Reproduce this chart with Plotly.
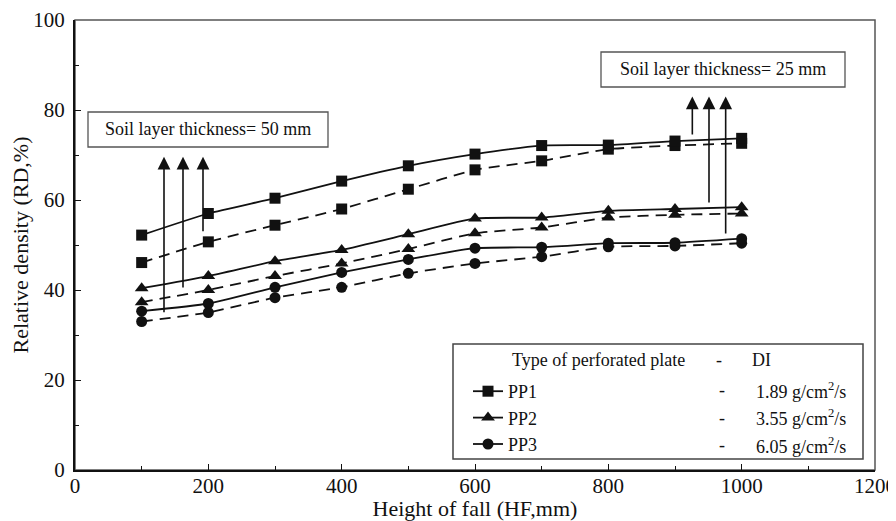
import plotly.graph_objects as go

# ---------------- data ----------------
hf = [100, 200, 300, 400, 500, 600, 700, 800, 900, 1000]
pp1_solid = [52.2, 57.0, 60.4, 64.2, 67.6, 70.2, 72.1, 72.2, 73.1, 73.7]
pp1_dashed = [46.1, 50.7, 54.4, 58.0, 62.4, 66.7, 68.7, 71.3, 72.1, 72.6]
pp2_solid = [40.4, 43.1, 46.4, 48.9, 52.4, 55.9, 56.1, 57.6, 58.0, 58.4]
pp2_dashed = [37.3, 40.0, 43.1, 45.9, 49.1, 52.6, 53.9, 56.1, 56.7, 57.0]
pp3_solid = [35.3, 37.0, 40.6, 43.9, 46.8, 49.3, 49.5, 50.4, 50.5, 51.4]
pp3_dashed = [33.0, 35.0, 38.3, 40.6, 43.7, 45.9, 47.4, 49.6, 49.8, 50.4]

plate_names = ["PP1", "PP2", "PP3"]
di_values = ["1.89", "3.55", "6.05"]

arrow50_x = [133.5, 162, 192]
arrow50_tail = [34.7, 40.2, 52.7]
arrow50_tip = 69.6
arrow25_x = [926, 951, 976]
arrow25_tail = [74.2, 59.1, 52.2]
arrow25_tip = 83.0

x_ticks = [0, 200, 400, 600, 800, 1000, 1200]
y_ticks = [0, 20, 40, 60, 80, 100]

# ---------------- figure ----------------
# page body has an 8px margin, so the figure is 8px smaller and margins shifted
OFF = 8
W, H = 896 - OFF, 521 - OFF
L, R, T, B = 75 - OFF, 21, 20 - OFF, 51
PW, PH = W - L - R, H - T - B   # 800 x 450
FONT = "Liberation Serif, Times New Roman, serif"
INK = "#111111"


def px(xp):
    """page pixel x -> paper x"""
    return (xp - 75) / PW


def py(yp):
    """page pixel y -> paper y"""
    return (470 - yp) / PH


fig = go.Figure()

series = [
    (pp1_solid, pp1_dashed, "square", 11),
    (pp2_solid, pp2_dashed, "triangle-up", 12),
    (pp3_solid, pp3_dashed, "circle", 11),
]
for i, (solid, dashed, sym, ms) in enumerate(series):
    fig.add_trace(go.Scatter(
        x=hf, y=dashed, mode="lines+markers", name=plate_names[i] + " (dashed)",
        showlegend=False,
        line=dict(color=INK, width=1.8, dash="11px,7px", shape="spline", smoothing=0.5),
        marker=dict(symbol=sym, size=ms, color=INK),
    ))
    fig.add_trace(go.Scatter(
        x=hf, y=solid, mode="lines+markers", name=plate_names[i],
        legendgroup=plate_names[i],
        line=dict(color=INK, width=1.8, shape="spline", smoothing=0.5),
        marker=dict(symbol=sym, size=ms, color=INK),
    ))

annotations = []
for xa, ta in zip(arrow50_x, arrow50_tail):
    annotations.append(dict(x=xa, y=arrow50_tip, ax=xa, ay=ta, xref="x", yref="y",
                            axref="x", ayref="y", text="", showarrow=True,
                            arrowhead=2, arrowsize=1.6, arrowwidth=1.6,
                            arrowcolor=INK, standoff=0))
for xa, ta in zip(arrow25_x, arrow25_tail):
    annotations.append(dict(x=xa, y=arrow25_tip, ax=xa, ay=ta, xref="x", yref="y",
                            axref="x", ayref="y", text="", showarrow=True,
                            arrowhead=2, arrowsize=1.6, arrowwidth=1.6,
                            arrowcolor=INK, standoff=0))

bf = dict(family=FONT, size=18, color=INK)
tf = dict(family=FONT, size=18, color=INK)


def note(xp, yp, text, font, anchor="center"):
    return dict(x=px(xp), y=py(yp), xref="paper", yref="paper", xanchor=anchor,
                yanchor="middle", text=text, showarrow=False, font=font)


annotations.append(note(208, 129.5, "Soil layer thickness= 50 mm", bf))
annotations.append(note(723, 69.5, "Soil layer thickness= 25 mm", bf))

# legend header and DI column
annotations.append(note(510, 360.5, "Type of perforated plate", tf, "left"))
annotations.append(note(719, 360.5, "-", tf))
annotations.append(note(750, 360.5, "DI", tf, "left"))
for yy, v in zip([390, 417.5, 445], di_values):
    annotations.append(note(722, yy, "-", tf))
    annotations.append(note(848, yy, v + " g/cm<sup>2</sup>/s", tf, "right"))

shapes = [
    # frame top/right
    dict(type="rect", xref="paper", yref="paper", x0=0, y0=0, x1=1, y1=1,
         line=dict(color="#555555", width=1.5), layer="below"),
    dict(type="rect", xref="paper", yref="paper", x0=px(88), x1=px(328), y0=py(147), y1=py(112),
         line=dict(color="#555555", width=1.3), fillcolor="white", layer="below"),
    dict(type="rect", xref="paper", yref="paper", x0=px(601), x1=px(845), y0=py(87), y1=py(52),
         line=dict(color="#555555", width=1.3), fillcolor="white", layer="below"),
    dict(type="rect", xref="paper", yref="paper", x0=px(453), x1=px(863), y0=py(459), y1=py(344),
         line=dict(color="#444444", width=1.5), fillcolor="white", layer="below"),
]

axis_common = dict(
    showline=True, linecolor=INK, linewidth=2, mirror=False, showgrid=False, zeroline=False,
    ticks="inside", ticklen=6, tickwidth=1.3, tickcolor=INK, automargin=False,
    tickfont=dict(family=FONT, size=21, color=INK),
)

fig.update_layout(
    width=W, height=H,
    margin=dict(l=L, r=R, t=T, b=B, pad=0, autoexpand=False),
    paper_bgcolor="white", plot_bgcolor="white",
    font=dict(family=FONT, color=INK),
    xaxis=dict(range=[0, 1200], tickvals=x_ticks, ticklabelstandoff=-4,
               minor=dict(dtick=100, ticks="inside", ticklen=4, tickcolor=INK, tickwidth=1.2),
               title=dict(text="Height of fall (HF,mm)", font=dict(family=FONT, size=22, color=INK),
                          standoff=3),
               **axis_common),
    yaxis=dict(range=[0, 100], tickvals=y_ticks, ticklabelstandoff=4,
               minor=dict(dtick=10, ticks="inside", ticklen=4, tickcolor=INK, tickwidth=1.2),
               title=dict(text="Relative density (RD,%)", font=dict(family=FONT, size=22, color=INK),
                          standoff=8),
               **axis_common),
    legend=dict(x=px(468), y=py(373), xanchor="left", yanchor="top",
                bgcolor="rgba(0,0,0,0)", borderwidth=0,
                font=dict(family=FONT, size=18, color=INK), tracegroupgap=0,
                itemsizing="trace"),
    annotations=annotations,
    shapes=shapes,
)

fig.write_html("out.html")
